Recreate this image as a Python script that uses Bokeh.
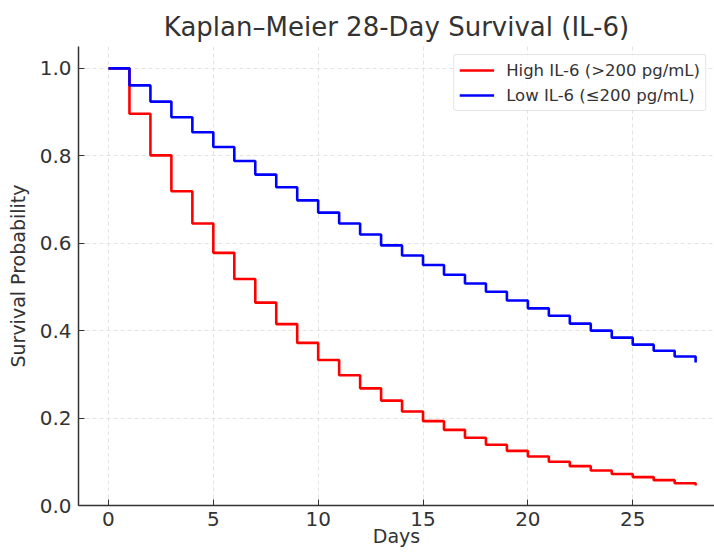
from bokeh.plotting import figure
from bokeh.models import Range1d, FixedTicker, Legend, LegendItem, CustomJSTickFormatter
from bokeh.embed import file_html
from bokeh.resources import INLINE

days = list(range(0, 29))
high_il6 = [1.0, 0.896, 0.801, 0.719, 0.645, 0.578, 0.518, 0.464, 0.415, 0.372,
            0.333, 0.298, 0.268, 0.240, 0.215, 0.193, 0.173, 0.155, 0.139, 0.125,
            0.112, 0.100, 0.090, 0.080, 0.072, 0.065, 0.058, 0.051, 0.046]
low_il6 = [1.0, 0.961, 0.924, 0.888, 0.854, 0.820, 0.788, 0.757, 0.728, 0.698,
           0.670, 0.645, 0.620, 0.595, 0.572, 0.550, 0.528, 0.508, 0.489, 0.469,
           0.451, 0.434, 0.416, 0.400, 0.384, 0.368, 0.354, 0.341, 0.327]
x_ticks = [0, 5, 10, 15, 20, 25]
y_ticks = [0.0, 0.2, 0.4, 0.6, 0.8, 1.0]
labels = ["High IL-6 (>200 pg/mL)", "Low IL-6 (\u2264200 pg/mL)"]

FONT = "DejaVu Sans"
TXT = "#333333"

p = figure(width=714, height=553, output_backend="svg", toolbar_location=None,
           x_range=Range1d(-1.43, 28.9), y_range=Range1d(0, 1.05),
           min_border_left=78, min_border_right=0, min_border_top=46, min_border_bottom=48)
p.outline_line_color = None
p.background_fill_color = "white"
p.border_fill_color = "white"

p.title.text = "Kaplan\u2013Meier 28-Day Survival (IL-6)"
p.title.text_font = FONT
p.title.text_font_size = "26px"
p.title.text_font_style = "normal"
p.title.text_color = TXT
p.title.align = "center"

r_high = p.step(days, high_il6, mode="after", line_color="#ff0000", line_width=2.6)
r_low = p.step(days, low_il6, mode="after", line_color="#0000ff", line_width=2.6)

for ax in (p.xaxis[0], p.yaxis[0]):
    ax.axis_line_color = TXT
    ax.axis_line_width = 1.5
    ax.major_tick_line_color = TXT
    ax.major_tick_in = 6
    ax.major_tick_out = 0
    ax.minor_tick_line_color = None
    ax.major_label_text_font = FONT
    ax.major_label_text_font_size = "20px"
    ax.major_label_text_color = TXT
    ax.axis_label_text_font = FONT
    ax.axis_label_text_font_size = "19px"
    ax.axis_label_text_font_style = "normal"
    ax.axis_label_text_color = TXT
    ax.major_label_standoff = 7

p.xaxis.ticker = FixedTicker(ticks=x_ticks)
p.yaxis.ticker = FixedTicker(ticks=y_ticks)
p.yaxis.formatter = CustomJSTickFormatter(code="return tick.toFixed(1);")
p.yaxis.axis_label = "Survival Probability"
p.yaxis.axis_label_standoff = 8
p.xaxis.axis_label = "Days"
p.xaxis.axis_label_standoff = -4
p.xaxis.major_label_standoff = 6

for g in (p.xgrid[0], p.ygrid[0]):
    g.grid_line_color = "#e3e3e3"
    g.grid_line_dash = "4 3"
    g.grid_line_width = 1

legend = Legend(items=[LegendItem(label=labels[0], renderers=[r_high]),
                       LegendItem(label=labels[1], renderers=[r_low])],
                location="top_right")
legend.label_text_font = FONT
legend.label_text_font_size = "16.5px"
legend.label_text_color = TXT
legend.glyph_width = 35
legend.glyph_height = 20
legend.label_height = 20
legend.label_standoff = 12
legend.spacing = 5
legend.padding = 5
legend.margin = 8
legend.border_line_color = "#cccccc"
legend.border_line_width = 1
legend.border_radius = 3
legend.background_fill_color = "white"
legend.background_fill_alpha = 0.8
p.add_layout(legend)

open("out.html", "w").write(file_html(p, INLINE))
